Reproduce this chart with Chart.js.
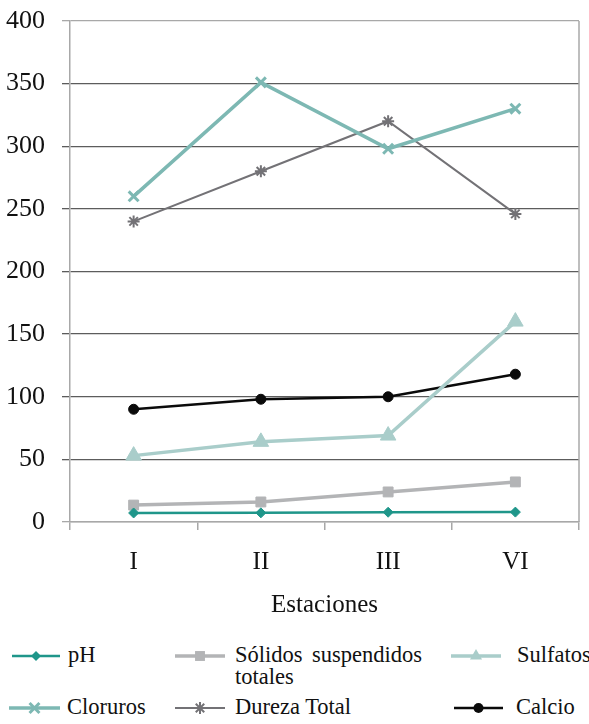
<!DOCTYPE html>
<html>
<head>
<meta charset="utf-8">
<script src="https://cdn.jsdelivr.net/npm/chart.js@4.4.1/dist/chart.umd.min.js"></script>
<style>
  html, body { margin: 0; padding: 0; background: #fff; }
  body { width: 589px; height: 724px; position: relative; overflow: hidden;
         font-family: "Liberation Serif", "DejaVu Serif", serif; color: #111; }
  #chart { position: absolute; left: 0; top: 0; }
  .sample { position: absolute; }
  .txt { position: absolute; font-size: 22.5px; line-height: 22px; white-space: nowrap; }
  .just { text-align: justify; text-align-last: justify; }
</style>
</head>
<body>
<canvas id="chart" width="589" height="624"></canvas>
<div id="legend"></div>
<script>
// Estaciones de muestreo
const categories = ["I", "II", "III", "VI"];
const yTicks = [0, 50, 100, 150, 200, 250, 300, 350, 400];

// Parámetros medidos en cada estación
const ph        = [7.2, 7.3, 7.8, 7.9];
const solidos   = [13.5, 16, 24, 32];
const sulfatos  = [53, 64, 69, 160];
const cloruros  = [260, 351, 298, 330];
const dureza    = [240, 280, 320, 246];
const calcio    = [90, 98, 100, 118];

const seriesNames = ["pH", "Sólidos suspendidos totales", "Sulfatos", "Cloruros", "Dureza Total", "Calcio"];

const FONT = '"Liberation Serif", "DejaVu Serif", serif';

function ds(label, data, color, width, style, radius, pbw) {
  return {
    label, data,
    borderColor: color, backgroundColor: color,
    borderWidth: width,
    pointStyle: style, pointRadius: radius, pointHoverRadius: radius,
    pointBorderWidth: pbw, pointBorderColor: color, pointBackgroundColor: color,
    tension: 0, fill: false
  };
}

const datasets = [
  ds(seriesNames[0], ph,       "#1f968a", 2.5, "rectRot", 5, 1),
  ds(seriesNames[1], solidos,  "#b3b4b6", 3.5, "rect",    7, 1),
  ds(seriesNames[2], sulfatos, "#a9cdca", 3.5, "triangle",9, 1),
  ds(seriesNames[3], cloruros, "#7db8b3", 3.5, "crossRot",7, 3),
  ds(seriesNames[4], dureza,   "#737276", 2,   "star",    6, 2),
  ds(seriesNames[5], calcio,   "#0a0a0a", 2.5, "circle",  5, 1)
];

// Marco claro del área de trazado (lado derecho)
const frame = {
  id: "frame",
  afterDraw(chart) {
    const { ctx, chartArea: a } = chart;
    ctx.save();
    ctx.strokeStyle = "#a8a8a8";
    ctx.lineWidth = 1.5;
    ctx.beginPath();
    ctx.moveTo(a.right, a.top);
    ctx.lineTo(a.right, a.bottom);
    ctx.stroke();
    ctx.restore();
  }
};

new Chart(document.getElementById("chart"), {
  type: "line",
  data: { labels: categories, datasets },
  plugins: [frame],
  options: {
    responsive: false,
    animation: false,
    layout: { padding: { top: 21, right: 2, left: 0, bottom: 0 } },
    plugins: { legend: { display: false }, tooltip: { enabled: false } },
    scales: {
      x: {
        offset: true,
        afterFit(scale) { scale.height = 102; scale.paddingLeft = 0; scale.paddingRight = 0; },
        grid: { offset: true, drawOnChartArea: false, tickLength: 8, color: "#a8a8a8", lineWidth: 1.5 },
        border: { color: "#a8a8a8", width: 1.5 },
        ticks: { color: "#111", font: { family: FONT, size: 25 }, padding: 17 },
        title: { display: true, text: "Estaciones", color: "#111", font: { family: FONT, size: 25 }, padding: { top: 4, bottom: 4 } }
      },
      y: {
        min: 0, max: 400,
        afterFit(scale) { scale.width = 70; scale.paddingTop = 0; scale.paddingBottom = 0; },
        afterBuildTicks(scale) { scale.ticks = yTicks.map(v => ({ value: v })); },
        grid: {
          tickLength: 8,
          lineWidth: 1.3,
          color: c => (c.tick && (c.tick.value === 0 || c.tick.value === 400)) ? "#a8a8a8" : "#5c5c5c"
        },
        border: { color: "#a8a8a8", width: 1.5 },
        ticks: { color: "#111", font: { family: FONT, size: 26 }, padding: 17 }
      }
    }
  }
});

// Leyenda: muestra de línea con marcador y texto de cada serie
const legendItems = [
  { x0: 12,  x1: 60,  tx: 68,  y: 656, html: "pH" },
  { x0: 175, x1: 225, tx: 235, y: 656, html: "Sólidos suspendidos", just: 187, second: "totales" },
  { x0: 451, x1: 501, tx: 517, y: 656, html: "Sulfatos" },
  { x0: 9,   x1: 60,  tx: 67,  y: 708, html: "Cloruros" },
  { x0: 175, x1: 225, tx: 235, y: 708, html: "Dureza Total" },
  { x0: 454, x1: 503, tx: 516, y: 708, html: "Calcio" }
];
const legendEl = document.getElementById("legend");

function drawMarker(ctx, style, x, y, r, color, bw) {
  ctx.save();
  ctx.fillStyle = color; ctx.strokeStyle = color; ctx.lineWidth = bw;
  ctx.beginPath();
  if (style === "rectRot") {
    ctx.moveTo(x, y - r); ctx.lineTo(x + r, y); ctx.lineTo(x, y + r); ctx.lineTo(x - r, y); ctx.closePath(); ctx.fill();
  } else if (style === "rect") {
    const s = r * Math.SQRT1_2; ctx.rect(x - s, y - s, 2 * s, 2 * s); ctx.fill();
  } else if (style === "triangle") {
    ctx.moveTo(x, y - r); ctx.lineTo(x + r * 0.866, y + r * 0.5); ctx.lineTo(x - r * 0.866, y + r * 0.5); ctx.closePath(); ctx.fill();
  } else if (style === "crossRot") {
    const s = r * 0.707; ctx.moveTo(x - s, y - s); ctx.lineTo(x + s, y + s); ctx.moveTo(x + s, y - s); ctx.lineTo(x - s, y + s); ctx.stroke();
  } else if (style === "star") {
    const s = r * 0.707;
    ctx.moveTo(x - s, y - s); ctx.lineTo(x + s, y + s); ctx.moveTo(x + s, y - s); ctx.lineTo(x - s, y + s);
    ctx.moveTo(x, y - r); ctx.lineTo(x, y + r); ctx.stroke();
  } else {
    ctx.arc(x, y, r, 0, Math.PI * 2); ctx.fill();
  }
  ctx.restore();
}

datasets.forEach((d, i) => {
  const it = legendItems[i];
  const w = it.x1 - it.x0;
  const c = document.createElement("canvas");
  c.className = "sample";
  c.width = w; c.height = 20;
  c.style.left = it.x0 + "px";
  c.style.top = (it.y - 10) + "px";
  const ctx = c.getContext("2d");
  ctx.strokeStyle = d.borderColor; ctx.lineWidth = d.borderWidth;
  ctx.beginPath(); ctx.moveTo(0, 10); ctx.lineTo(w, 10); ctx.stroke();
  drawMarker(ctx, d.pointStyle, w / 2, 10, Math.min(d.pointRadius, 7), d.borderColor, d.pointBorderWidth);
  legendEl.appendChild(c);

  const t = document.createElement("div");
  t.className = "txt";
  t.style.left = it.tx + "px";
  t.style.top = (it.y - 12) + "px";
  if (it.just) {
    t.innerHTML = '<div class="just" style="width:' + it.just + 'px">' + it.html + '</div><div>' + it.second + '</div>';
  } else {
    t.textContent = it.html;
  }
  legendEl.appendChild(t);
});
</script>
</body>
</html>
